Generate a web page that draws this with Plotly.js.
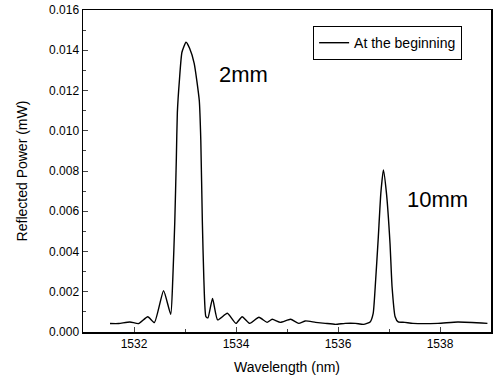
<!DOCTYPE html>
<html>
<head>
<meta charset="utf-8">
<script src="https://cdn.plot.ly/plotly-3.0.1.min.js"></script>
<style>html,body{margin:0;padding:0;background:#fff;}#chart{width:497px;height:378px;}</style>
</head>
<body>
<div id="chart"></div>
<script>
const wavelength = [1531.53,1531.70,1531.92,1532.09,1532.27,1532.40,1532.58,1532.72,1532.76,1532.80,1532.83,1532.85,1532.89,1532.94,1533.02,1533.09,1533.18,1533.28,1533.31,1533.34,1533.37,1533.41,1533.45,1533.54,1533.64,1533.83,1534.00,1534.12,1534.27,1534.45,1534.61,1534.71,1534.87,1535.07,1535.23,1535.36,1535.56,1535.75,1535.95,1536.14,1536.34,1536.50,1536.63,1536.69,1536.73,1536.79,1536.84,1536.89,1536.95,1537.02,1537.06,1537.12,1537.18,1537.31,1537.47,1537.96,1538.35,1538.93];
const power = [0.00042,0.00042,0.0005,0.00042,0.00076,0.00047,0.00205,0.00088,0.0026,0.0055,0.0086,0.0109,0.0125,0.0139,0.0144,0.0141,0.01335,0.0115,0.0095,0.0055,0.0026,0.00076,0.0007,0.00167,0.0006,0.00093,0.00043,0.00076,0.00043,0.00073,0.00048,0.00063,0.00048,0.00063,0.00043,0.00055,0.00048,0.00043,0.00038,0.00043,0.00043,0.00038,0.0005,0.00093,0.00225,0.0047,0.0069,0.00805,0.0069,0.0044,0.00225,0.00076,0.0005,0.00048,0.00043,0.00043,0.0005,0.00043];
const seriesName = "At the beginning";
const labels = ["2mm", "10mm"];
const labelX = [1534.14, 1537.96];
const labelY = [0.0128, 0.00656];

const font = "Arial, 'Liberation Sans', sans-serif";
const data = [{
  x: wavelength, y: power, type: 'scatter', mode: 'lines', name: seriesName,
  line: {color: '#000', width: 1.4, shape: 'spline', smoothing: 0.5}
}];
const layout = {
  width: 497, height: 378,
  margin: {l: 83, r: 6, t: 10, b: 46},
  paper_bgcolor: '#fff', plot_bgcolor: '#fff',
  font: {family: font, color: '#000', size: 12},
  showlegend: true,
  legend: {x: 0.564, y: 0.95, xanchor: 'left', yanchor: 'top', bordercolor: '#000', borderwidth: 1,
           bgcolor: '#fff', font: {size: 14, family: font}, tracegroupgap: 0, itemwidth: 30},
  xaxis: {
    range: [1531, 1539], dtick: 2, tick0: 1532, ticks: 'inside', ticklen: 5, tickwidth: 1,
    minor: {dtick: 1, ticks: 'inside', ticklen: 3},
    showline: true, linecolor: '#000', linewidth: 1.5, mirror: true, showgrid: false, zeroline: false,
    tickfont: {size: 12, family: font},
    title: {text: 'Wavelength (nm)', font: {size: 14, family: font}, standoff: 12}
  },
  yaxis: {
    range: [0, 0.016], dtick: 0.002, tick0: 0, tickformat: '.3f', ticks: 'inside', ticklen: 5, tickwidth: 1,
    minor: {dtick: 0.001, ticks: 'inside', ticklen: 3},
    showline: true, linecolor: '#000', linewidth: 1.5, mirror: true, showgrid: false, zeroline: false,
    tickfont: {size: 12, family: font},
    title: {text: 'Reflected Power (mW)', font: {size: 14, family: font}, standoff: 18}
  },
  annotations: labels.map((t, i) => ({
    x: labelX[i], y: labelY[i], xref: 'x', yref: 'y', text: t, showarrow: false,
    font: {size: 22, family: font, color: '#000'}
  }))
};
Plotly.newPlot('chart', data, layout, {displayModeBar: false, staticPlot: true});
</script>
</body>
</html>
